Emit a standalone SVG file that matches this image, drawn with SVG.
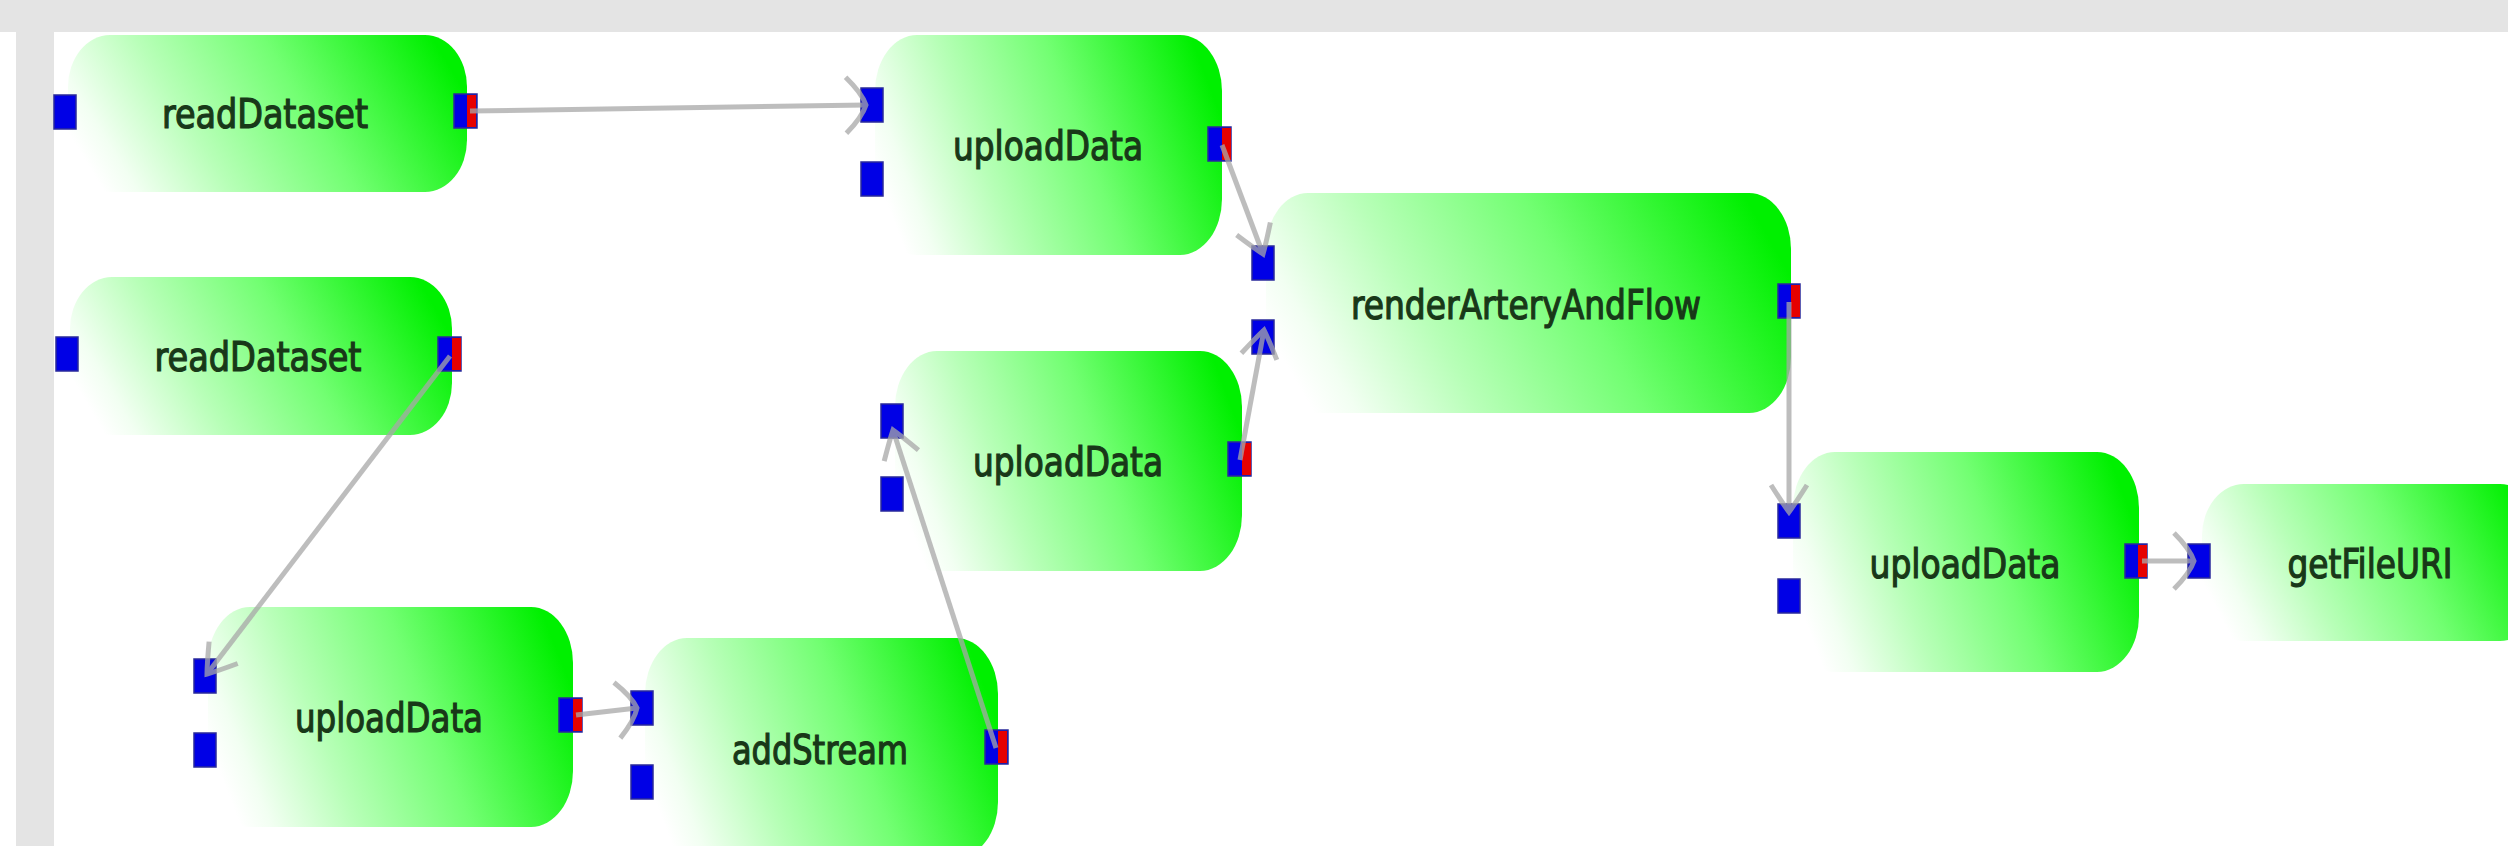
<svg xmlns="http://www.w3.org/2000/svg" width="2508" height="846" viewBox="0 0 2508 846">
<defs>
<linearGradient id="nodeGrad" x1="0" y1="0.62" x2="1" y2="0.38">
<stop offset="0" stop-color="#ffffff"/>
<stop offset="0.08" stop-color="#f2fff2"/>
<stop offset="0.3" stop-color="#b8ffb8"/>
<stop offset="0.6" stop-color="#72ff72"/>
<stop offset="1" stop-color="#00f000"/>
</linearGradient>
<marker id="arrowWide" markerUnits="userSpaceOnUse" markerWidth="60" markerHeight="60" refX="0" refY="0" orient="auto" overflow="visible">
<path d="M-20,-28 Q-4,-12 0,0 Q-4,12 -20,28" fill="none" stroke="#a8a8a8" stroke-width="5"/>
</marker>
<marker id="arrowNarrow" markerUnits="userSpaceOnUse" markerWidth="60" markerHeight="60" refX="0" refY="0" orient="auto" overflow="visible">
<path d="M-27,-18 Q-8,-6 0,0 Q-8,6 -27,18" fill="none" stroke="#a8a8a8" stroke-width="5"/>
</marker>
</defs>
<style>
.body{fill:url(#nodeGrad);}
.label{font-family:"DejaVu Sans Condensed","DejaVu Sans",sans-serif;font-stretch:condensed;font-size:41px;font-weight:normal;fill:#183818;stroke:#183818;stroke-width:1.2;text-anchor:middle;}
.port{fill:#0000e6;stroke:#2a2a9a;stroke-width:1.5;}
.out{fill:#e60000;}
.edge{fill:none;stroke:#a8a8a8;stroke-width:5;}
</style>
<rect x="0" y="0" width="2508" height="846" fill="#ffffff"/>
<rect x="0" y="0" width="2508" height="32" fill="#e4e4e4"/>
<rect x="16" y="32" width="38" height="814" fill="#e4e4e4"/>

<g id="readDataset-1">
<rect class="body" x="68" y="35" width="399" height="157" rx="42" ry="52"/>
<text class="label" x="265" y="128" textLength="206" lengthAdjust="spacingAndGlyphs">readDataset</text>
<rect class="port" x="54" y="95" width="22" height="34"/>
<rect class="port" x="454" y="94" width="23" height="34"/><rect class="out" x="467" y="95" width="9" height="32"/>
</g>
<g id="readDataset-2">
<rect class="body" x="70" y="277" width="382" height="158" rx="42" ry="52"/>
<text class="label" x="258" y="371" textLength="207" lengthAdjust="spacingAndGlyphs">readDataset</text>
<rect class="port" x="56" y="337" width="22" height="34"/>
<rect class="port" x="438" y="337" width="23" height="34"/><rect class="out" x="452" y="338" width="9" height="32"/>
</g>
<g id="uploadData-1">
<rect class="body" x="875" y="35" width="347" height="220" rx="42" ry="56"/>
<text class="label" x="1048" y="160" textLength="190" lengthAdjust="spacingAndGlyphs">uploadData</text>
<rect class="port" x="861" y="88" width="22" height="34"/>
<rect class="port" x="861" y="162" width="22" height="34"/>
<rect class="port" x="1208" y="127" width="23" height="34"/><rect class="out" x="1222" y="128" width="9" height="32"/>
</g>
<g id="renderArteryAndFlow">
<rect class="body" x="1266" y="193" width="525" height="220" rx="42" ry="56"/>
<text class="label" x="1526" y="319" textLength="350" lengthAdjust="spacingAndGlyphs">renderArteryAndFlow</text>
<rect class="port" x="1252" y="246" width="22" height="34"/>
<rect class="port" x="1252" y="320" width="22" height="34"/>
<rect class="port" x="1778" y="284" width="22" height="34"/><rect class="out" x="1791" y="285" width="9" height="32"/>
</g>
<g id="uploadData-2">
<rect class="body" x="895" y="351" width="347" height="220" rx="42" ry="56"/>
<text class="label" x="1068" y="476" textLength="190" lengthAdjust="spacingAndGlyphs">uploadData</text>
<rect class="port" x="881" y="404" width="22" height="34"/>
<rect class="port" x="881" y="477" width="22" height="34"/>
<rect class="port" x="1228" y="442" width="23" height="34"/><rect class="out" x="1242" y="443" width="9" height="32"/>
</g>
<g id="uploadData-3">
<rect class="body" x="208" y="607" width="365" height="220" rx="42" ry="56"/>
<text class="label" x="389" y="732" textLength="188" lengthAdjust="spacingAndGlyphs">uploadData</text>
<rect class="port" x="194" y="659" width="22" height="34"/>
<rect class="port" x="194" y="733" width="22" height="34"/>
<rect class="port" x="559" y="698" width="23" height="34"/><rect class="out" x="573" y="699" width="9" height="32"/>
</g>
<g id="addStream">
<rect class="body" x="645" y="638" width="353" height="220" rx="42" ry="56"/>
<text class="label" x="820" y="764" textLength="176" lengthAdjust="spacingAndGlyphs">addStream</text>
<rect class="port" x="631" y="691" width="22" height="34"/>
<rect class="port" x="631" y="765" width="22" height="34"/>
<rect class="port" x="985" y="730" width="23" height="34"/><rect class="out" x="998" y="731" width="9" height="32"/>
</g>
<g id="uploadData-4">
<rect class="body" x="1793" y="452" width="346" height="220" rx="42" ry="56"/>
<text class="label" x="1965" y="578" textLength="191" lengthAdjust="spacingAndGlyphs">uploadData</text>
<rect class="port" x="1778" y="504" width="22" height="34"/>
<rect class="port" x="1778" y="579" width="22" height="34"/>
<rect class="port" x="2125" y="544" width="22" height="34"/><rect class="out" x="2138" y="545" width="9" height="32"/>
</g>
<g id="getFileURI">
<rect class="body" x="2202" y="484" width="340" height="157" rx="42" ry="52"/>
<text class="label" x="2370" y="578" textLength="165" lengthAdjust="spacingAndGlyphs">getFileURI</text>
<rect class="port" x="2188" y="544" width="22" height="34"/>
</g>

<g id="connectors" opacity="0.75">
<path class="edge" d="M470 111 L866 105" marker-end="url(#arrowWide)"/>
<path class="edge" d="M450 356 L207 674" marker-end="url(#arrowNarrow)"/>
<path class="edge" d="M576 715 L637 708" marker-end="url(#arrowWide)"/>
<path class="edge" d="M996 748 L893 430" marker-end="url(#arrowNarrow)"/>
<path class="edge" d="M1222 145 L1263 254" marker-end="url(#arrowNarrow)"/>
<path class="edge" d="M1240 460 L1264 330" marker-end="url(#arrowNarrow)"/>
<path class="edge" d="M1789 302 L1789 512" marker-end="url(#arrowNarrow)"/>
<path class="edge" d="M2142 561 L2194 561" marker-end="url(#arrowWide)"/>
</g>
</svg>
